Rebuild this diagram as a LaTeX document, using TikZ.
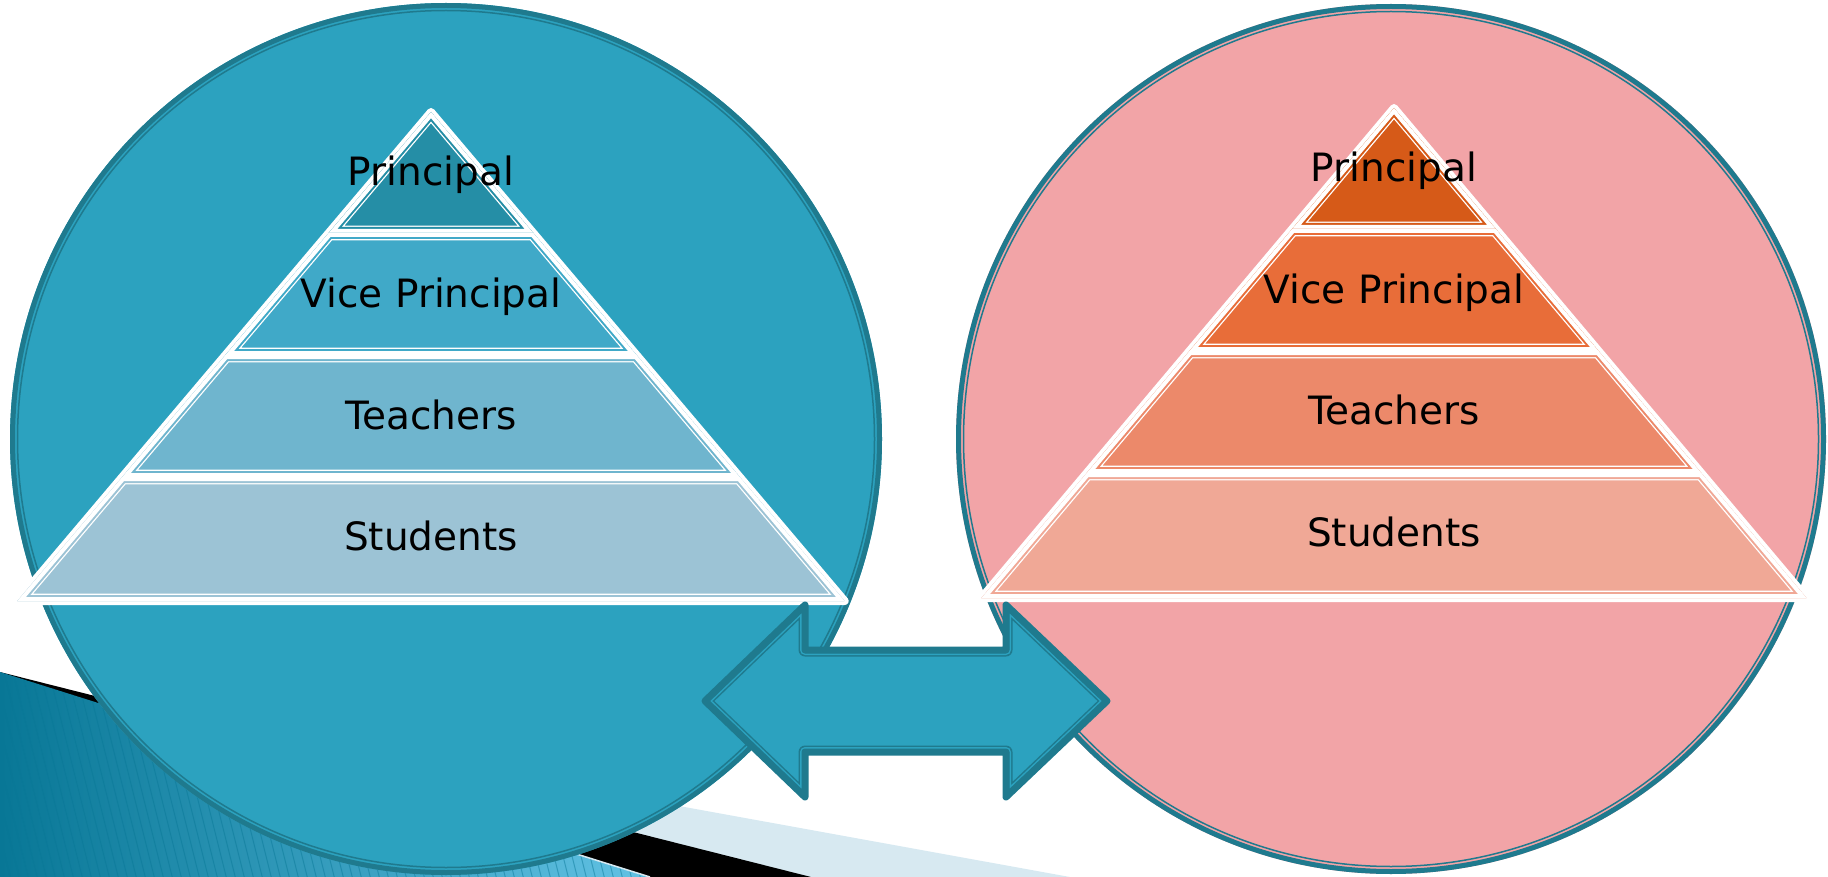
\documentclass[tikz,border=0pt]{standalone}
\usepackage{fontspec}
\setmainfont{DejaVu Sans}

\definecolor{circteal}{HTML}{2CA2BF}
\definecolor{rimteal}{HTML}{1F7A8E}
\definecolor{circpink}{HTML}{F2A4A7}
\definecolor{tprin}{HTML}{258EA6}
\definecolor{tvice}{HTML}{40A9C8}
\definecolor{tteach}{HTML}{6FB5CE}
\definecolor{tstud}{HTML}{9CC3D5}
\definecolor{oprin}{HTML}{D65A18}
\definecolor{ovice}{HTML}{E86D39}
\definecolor{oteach}{HTML}{EC896A}
\definecolor{ostud}{HTML}{F0A896}
\definecolor{bandpale}{HTML}{D7E9F1}
\definecolor{stripedark}{HTML}{087796}
\definecolor{stripelight}{HTML}{62C2E4}

\begin{document}
\begin{tikzpicture}[x=1pt,y=-1pt]
	\tikzstyle{tier}=[font=\fontsize{39}{45}\selectfont, anchor=base, inner sep=0pt, text=black]
	\tikzstyle{rim}=[draw=rimteal, line width=5]
	\tikzstyle{inner rim}=[draw=rimteal, line width=1.5]
	\useasboundingbox (0,0) rectangle (1828,877);
	\clip (0,0) rectangle (1828,877);
	% bands in the lower left corner
	\fill[bandpale] (200,719) -- (1070,877) -- (200,877) -- cycle;
	\fill[black] (0,672) -- (811,877) -- (0,877) -- cycle;
	\begin{scope}
		\clip (0,672) -- (650,877) -- (0,877) -- cycle;
		\shade[left color=stripedark, right color=stripelight] (0,660) rectangle (650,877);
		\foreach \x in {-80,-71,...,650}
			\draw[stripedark, opacity=0.45, line width=1] (\x,660) -- ++(55,220);
	\end{scope}
	\draw[bandpale, line width=1.5] (420,805) -- (650,877);
	% the two circles
	\fill[circteal] (446,439) circle (436);
	\draw[rim] (446,439) circle (433.5);
	\draw[inner rim] (446,439) circle (428.5);
	\fill[circpink] (1391,439) circle (435);
	\draw[rim] (1391,439) circle (432.5);
	\draw[inner rim] (1391,439) circle (427.5);
	% left pyramid
	\filldraw[white, line width=8, line join=round] (431,112) -- ({431+0.846*489},601) -- ({431-0.846*489},601) -- cycle;
	\foreach \ya/\yb/\col in {112/233/tprin, 233/355/tvice, 355/477/tteach, 477/601/tstud} {
		\coordinate (tl) at ({431-0.846*(\ya-112)},\ya);
		\coordinate (tr) at ({431+0.846*(\ya-112)},\ya);
		\coordinate (br) at ({431+0.846*(\yb-112)},\yb);
		\coordinate (bl) at ({431-0.846*(\yb-112)},\yb);
		\begin{scope}[line join=round]
			\clip (tl) -- (tr) -- (br) -- (bl) -- cycle;
			\fill[\col] (tl) -- (tr) -- (br) -- (bl) -- cycle;
			\draw[white, line width=14.6] (tl) -- (tr) -- (br) -- (bl) -- cycle;
			\draw[\col, line width=12] (tl) -- (tr) -- (br) -- (bl) -- cycle;
			\draw[white, line width=8] (tl) -- (tr) -- (br) -- (bl) -- cycle;
		\end{scope}
	}
	\node[tier] (lprin) at (431,186) {Principal};
	\node[tier] (lvice) at (431,308) {Vice Principal};
	\node[tier] (lteach) at (431,429) {Teachers};
	\node[tier] (lstud) at (431,550) {Students};
	% right pyramid
	\filldraw[white, line width=8, line join=round] (1394,108) -- ({1394+0.842*490},598) -- ({1394-0.842*490},598) -- cycle;
	\foreach \ya/\yb/\col in {108/229/oprin, 229/351/ovice, 351/473/oteach, 473/598/ostud} {
		\coordinate (tl) at ({1394-0.842*(\ya-108)},\ya);
		\coordinate (tr) at ({1394+0.842*(\ya-108)},\ya);
		\coordinate (br) at ({1394+0.842*(\yb-108)},\yb);
		\coordinate (bl) at ({1394-0.842*(\yb-108)},\yb);
		\begin{scope}[line join=round]
			\clip (tl) -- (tr) -- (br) -- (bl) -- cycle;
			\fill[\col] (tl) -- (tr) -- (br) -- (bl) -- cycle;
			\draw[white, line width=14.6] (tl) -- (tr) -- (br) -- (bl) -- cycle;
			\draw[\col, line width=12] (tl) -- (tr) -- (br) -- (bl) -- cycle;
			\draw[white, line width=8] (tl) -- (tr) -- (br) -- (bl) -- cycle;
		\end{scope}
	}
	\node[tier] (rprin) at (1394,182) {Principal};
	\node[tier] (rvice) at (1394,304) {Vice Principal};
	\node[tier] (rteach) at (1394,424) {Teachers};
	\node[tier] (rstud) at (1394,546) {Students};
	% double arrow between the circles
	\coordinate (a1) at (705,701);
	\coordinate (a2) at (805,605);
	\coordinate (a3) at (805,650);
	\coordinate (a4) at (1006,650);
	\coordinate (a5) at (1006,605);
	\coordinate (a6) at (1107,701);
	\coordinate (a7) at (1006,797);
	\coordinate (a8) at (1006,752);
	\coordinate (a9) at (805,752);
	\coordinate (a10) at (805,797);
	\fill[circteal] (a1) -- (a2) -- (a3) -- (a4) -- (a5) -- (a6) -- (a7) -- (a8) -- (a9) -- (a10) -- cycle;
	\begin{scope}[line join=round]
		\clip (a1) -- (a2) -- (a3) -- (a4) -- (a5) -- (a6) -- (a7) -- (a8) -- (a9) -- (a10) -- cycle;
		\draw[rimteal, line width=13] (a1) -- (a2) -- (a3) -- (a4) -- (a5) -- (a6) -- (a7) -- (a8) -- (a9) -- (a10) -- cycle;
		\draw[circteal, line width=10] (a1) -- (a2) -- (a3) -- (a4) -- (a5) -- (a6) -- (a7) -- (a8) -- (a9) -- (a10) -- cycle;
		\draw[rimteal, line width=6] (a1) -- (a2) -- (a3) -- (a4) -- (a5) -- (a6) -- (a7) -- (a8) -- (a9) -- (a10) -- cycle;
	\end{scope}
	\draw[rimteal, line width=7, line join=round] (a1) -- (a2) -- (a3) -- (a4) -- (a5) -- (a6) -- (a7) -- (a8) -- (a9) -- (a10) -- cycle;
\end{tikzpicture}
\end{document}
